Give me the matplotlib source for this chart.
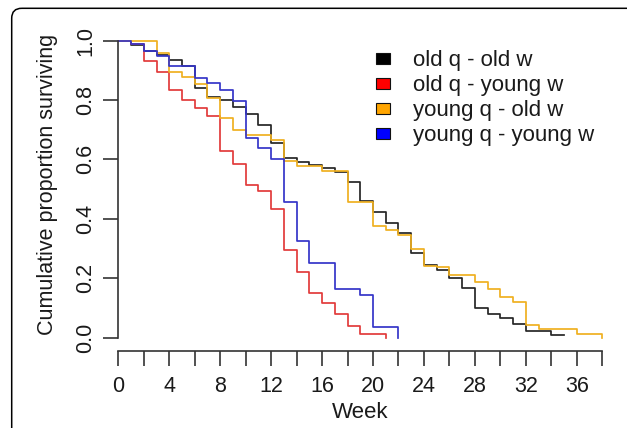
import matplotlib
matplotlib.use('Agg')
import matplotlib.pyplot as plt
from matplotlib.patches import Rectangle, FancyBboxPatch
from matplotlib.transforms import Affine2D

plt.rcParams['font.family'] = ['Liberation Sans', 'DejaVu Sans']

# survival curves (week, proportion surviving)
WEEKS_OLDQ_OLDW = [0, 1, 2, 3, 4, 5, 6, 7, 8, 9, 10, 11, 12, 13, 14, 15, 16, 17, 18, 19,
                   20, 21, 22, 23, 24, 25, 26, 27, 28, 29, 30, 31, 32, 34, 35]
SURV_OLDQ_OLDW = [1.0, 0.984, 0.965, 0.951, 0.933, 0.913, 0.840, 0.810, 0.800, 0.775,
                  0.752, 0.714, 0.656, 0.604, 0.592, 0.581, 0.570, 0.558, 0.525, 0.461,
                  0.424, 0.387, 0.351, 0.285, 0.244, 0.228, 0.200, 0.166, 0.099, 0.081,
                  0.067, 0.047, 0.022, 0.008, 0.008]

WEEKS_OLDQ_YOUNGW = [0, 1, 2, 3, 4, 5, 6, 7, 8, 9, 10, 11, 12, 13, 14, 15, 16, 17, 18, 19, 20, 21]
SURV_OLDQ_YOUNGW = [1.0, 0.988, 0.932, 0.895, 0.835, 0.800, 0.772, 0.745, 0.627, 0.585, 0.515,
                    0.495, 0.433, 0.295, 0.220, 0.150, 0.116, 0.079, 0.038, 0.0125, 0.0125, 0.0]

WEEKS_YOUNGQ_OLDW = [0, 3, 4, 5, 6, 7, 8, 9, 10, 12, 13, 14, 16, 18, 20, 21, 22, 23, 24, 25,
                     26, 28, 29, 30, 31, 32, 33, 36, 38]
SURV_YOUNGQ_OLDW = [1.0, 0.958, 0.893, 0.878, 0.855, 0.805, 0.740, 0.698, 0.682, 0.665,
                    0.596, 0.577, 0.560, 0.457, 0.376, 0.362, 0.346, 0.300, 0.241, 0.237,
                    0.211, 0.186, 0.163, 0.136, 0.119, 0.043, 0.028, 0.013, 0.0]

WEEKS_YOUNGQ_YOUNGW = [0, 1, 2, 3, 4, 6, 7, 8, 9, 10, 11, 12, 13, 14, 15, 17, 19, 20, 22]
SURV_YOUNGQ_YOUNGW = [1.0, 0.988, 0.965, 0.948, 0.914, 0.875, 0.856, 0.833, 0.798, 0.671,
                      0.637, 0.601, 0.455, 0.326, 0.250, 0.164, 0.144, 0.035, 0.0]

LABELS = ['old q - old w', 'old q - young w', 'young q - old w', 'young q - young w']
LINE_COLORS = ['#262626', '#e23a3a', '#f0b020', '#3535c8']
FILL_COLORS = ['#000000', '#ff0000', '#ffa500', '#0000ff']

X_TICKS = [0, 2, 4, 6, 8, 10, 12, 14, 16, 18, 20, 22, 24, 26, 28, 30, 32, 34, 36, 38]
X_TICK_LABELS = ['0', '', '4', '', '8', '', '12', '', '16', '', '20', '', '24', '',
                 '28', '', '32', '', '36', '']
Y_TICKS = [0.0, 0.2, 0.4, 0.6, 0.8, 1.0]
Y_TICK_LABELS = ['0.0', '0.2', '0.4', '0.6', '0.8', '1.0']

W, H, DPI = 627, 428, 100
TXT = '#1a1a1a'
AX_COL = '#333333'


def main():
    fig = plt.figure(figsize=(W / DPI, H / DPI), dpi=DPI)
    px = Affine2D().scale(1 / DPI, -1 / DPI).translate(0, H / DPI) + fig.dpi_scale_trans

    left, right, top, bottom = 118.3, 602.2, 40.5, 337.7
    ax = fig.add_axes([left / W, 1 - bottom / H, (right - left) / W, (bottom - top) / H])
    ax.patch.set_visible(False)

    series = [(WEEKS_OLDQ_OLDW, SURV_OLDQ_OLDW), (WEEKS_OLDQ_YOUNGW, SURV_OLDQ_YOUNGW),
              (WEEKS_YOUNGQ_OLDW, SURV_YOUNGQ_OLDW), (WEEKS_YOUNGQ_YOUNGW, SURV_YOUNGQ_YOUNGW)]
    for (t, s), c in zip(series, LINE_COLORS):
        ax.step(t, s, where='post', color=c, lw=1.25, clip_on=False)

    ax.set_xlim(0, 38)
    ax.set_ylim(0, 1)
    for sp in ['top', 'right']:
        ax.spines[sp].set_visible(False)
    ax.spines['bottom'].set_position(('outward', 13 * 0.72))
    ax.spines['bottom'].set_bounds(0, 38)
    ax.spines['left'].set_bounds(0, 1)
    for sp in ['bottom', 'left']:
        ax.spines[sp].set_color(AX_COL)
        ax.spines[sp].set_linewidth(1.2)

    ax.set_xticks(X_TICKS, X_TICK_LABELS)
    ax.set_yticks(Y_TICKS, Y_TICK_LABELS, rotation=90, va='center')
    ax.tick_params(axis='both', length=10.8, width=1.2, color=AX_COL,
                   labelsize=15.5, labelcolor=TXT)
    ax.tick_params(axis='x', pad=7.5)
    ax.tick_params(axis='y', pad=5)

    fig.text(48 / W, 1 - 184 / H, 'Cumulative proportion surviving', rotation=90,
             ha='center', va='center', fontsize=15.5, color=TXT)
    fig.text(360 / W, 1 - 412 / H, 'Week', ha='center', va='center', fontsize=16, color=TXT)

    # legend
    for i, (lab, fc) in enumerate(zip(LABELS, FILL_COLORS)):
        yc = 58.3 + 25 * i
        fig.add_artist(Rectangle((376, yc - 5.5), 14, 11, transform=px, facecolor=fc,
                                 edgecolor='#111111', lw=0.8))
        fig.text(413, yc + 8, lab, transform=px, ha='left', va='baseline',
                 fontsize=16, color=TXT)

    # rounded outer frame
    fig.add_artist(FancyBboxPatch((11.7, 8.3), 700, 500, boxstyle='round,pad=0,rounding_size=10',
                                  transform=px, fill=False, ec='black', lw=1.1, clip_on=False))

    fig.savefig('out.png', dpi=DPI)


if __name__ == '__main__':
    main()
